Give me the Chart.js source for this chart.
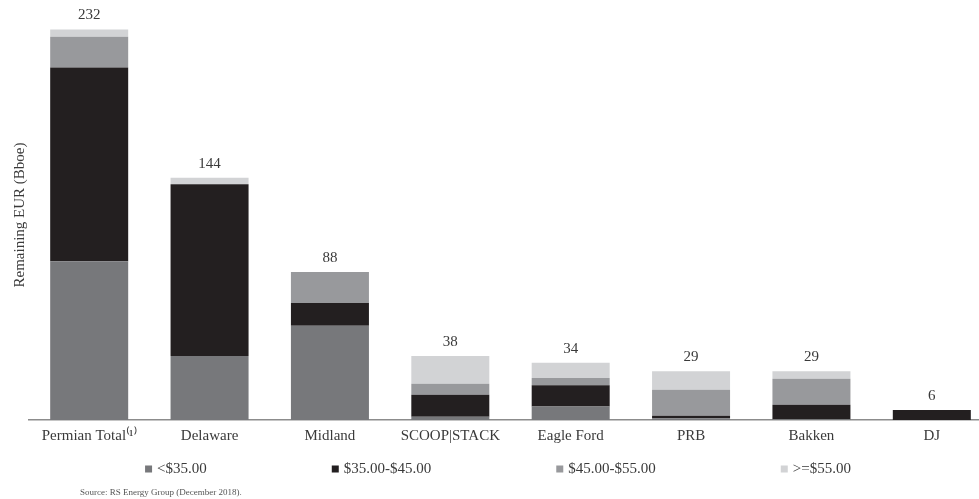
<!DOCTYPE html>
<html>
<head>
<meta charset="utf-8">
<script src="https://cdn.jsdelivr.net/npm/chart.js@4/dist/chart.umd.min.js"></script>
<style>
  html, body { margin: 0; padding: 0; background: #fff; overflow: hidden; }
  #wrap { position: relative; width: 1000px; height: 499px; }
</style>
</head>
<body>
<div id="wrap"><canvas id="c"></canvas></div>
<script>
// ---- data ----
const categories = ['Permian Total\u207D\u00B9\u207E', 'Delaware', 'Midland', 'SCOOP|STACK', 'Eagle Ford', 'PRB', 'Bakken', 'DJ'];
const seriesNames = ['<$35.00', '$35.00-$45.00', '$45.00-$55.00', '>=$55.00'];
const below35 = [94.3, 38, 56, 2, 8, 1, 0.5, 0];
const from35to45 = [115.2, 102, 13.5, 13, 12.7, 1.5, 8.5, 6];
const from45to55 = [18.2, 0, 18.5, 6.5, 4.2, 15.5, 15.5, 0];
const above55 = [4.3, 4, 0, 16.5, 9.1, 11, 4.5, 0];
const totalLabels = ['232', '144', '88', '38', '34', '29', '29', '6'];
const yTitle = 'Remaining EUR (Bboe)';
const sourceNote = 'Source: RS Energy Group (December 2018).';

const colors = ['#77787b', '#231f20', '#98999c', '#d2d3d5'];
const seriesData = [below35, from35to45, from45to55, above55];
const textColor = '#3a3a3a';
const serif = '"Liberation Serif", "Times New Roman", serif';

const totalsPlugin = {
  id: 'totals',
  afterDatasetsDraw(chart) {
    const ctx = chart.ctx;
    const ys = chart.scales.y;
    const meta = chart.getDatasetMeta(0);
    ctx.save();
    ctx.font = '15px ' + serif;
    ctx.fillStyle = textColor;
    ctx.textAlign = 'center';
    ctx.textBaseline = 'middle';
    categories.forEach((c, i) => {
      let sum = 0;
      chart.data.datasets.forEach(d => { sum += d.data[i]; });
      const x = meta.data[i].x;
      const y = ys.getPixelForValue(sum);
      ctx.fillText(totalLabels[i], x, y - 14);
    });
    ctx.restore();
  }
};

const legendPlugin = {
  id: 'customLegend',
  afterDraw(chart) {
    const ctx = chart.ctx;
    ctx.save();
    ctx.font = '15px ' + serif;
    ctx.textBaseline = 'middle';
    const box = 7, boxGap = 5, gap = 125;
    const widths = chart.data.datasets.map(d => box + boxGap + ctx.measureText(d.label).width);
    const total = widths.reduce((a, b) => a + b, 0) + gap * (widths.length - 1);
    let x = 498 - total / 2;
    const y = 469;
    chart.data.datasets.forEach((d, i) => {
      ctx.fillStyle = d.backgroundColor;
      ctx.fillRect(x, y - box / 2, box, box);
      ctx.fillStyle = textColor;
      ctx.textAlign = 'left';
      ctx.fillText(d.label, x + box + boxGap, y + 0.5);
      x += widths[i] + gap;
    });
    ctx.font = '9px ' + serif;
    ctx.fillStyle = '#555';
    ctx.fillText(sourceNote, 80, 493);
    ctx.restore();
  }
};

new Chart(document.getElementById('c'), {
  type: 'bar',
  data: {
    labels: categories,
    datasets: seriesNames.map((n, i) => ({
      label: n,
      data: seriesData[i],
      backgroundColor: colors[i],
      borderWidth: 0,
      categoryPercentage: 1,
      barPercentage: 0.648
    }))
  },
  options: {
    responsive: true,
    maintainAspectRatio: false,
    animation: false,
    layout: { padding: { top: 10, left: 11, right: 8, bottom: 47 } },
    plugins: {
      legend: { display: false },
      tooltip: { enabled: false }
    },
    scales: {
      x: {
        stacked: true,
        grid: { display: false, drawTicks: false },
        border: { display: true, color: '#8c8c8c', width: 1.5 },
        ticks: { color: textColor, font: { family: serif, size: 15 }, padding: 7, maxRotation: 0, autoSkip: false }
      },
      y: {
        stacked: true,
        min: 0,
        max: 243.6,
        grid: { display: false, drawTicks: false },
        border: { display: false },
        ticks: { display: false },
        title: { display: true, text: yTitle, color: textColor, font: { family: serif, size: 15 }, padding: 0 }
      }
    }
  },
  plugins: [totalsPlugin, legendPlugin]
});
</script>
</body>
</html>
